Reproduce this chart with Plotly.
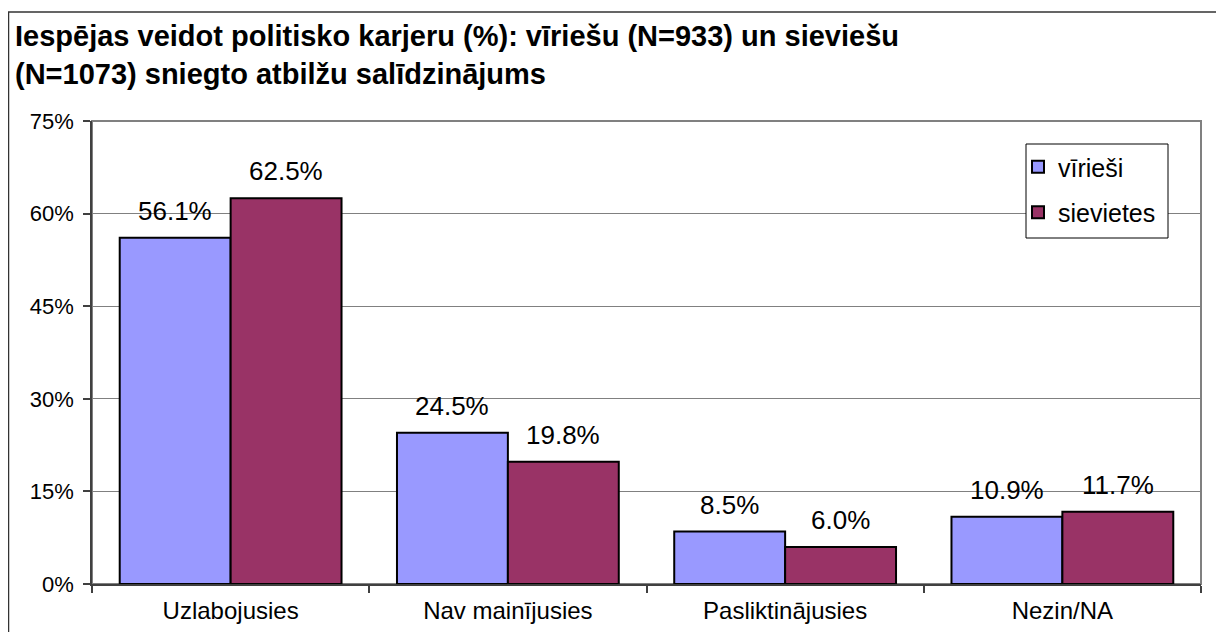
import plotly.graph_objects as go

categories = ["Uzlabojusies", "Nav mainījusies", "Pasliktinājusies", "Nezin/NA"]
virriesi = [56.1, 24.5, 8.5, 10.9]
sievietes = [62.5, 19.8, 6.0, 11.7]
series_names = ["vīrieši", "sievietes"]
y_ticks = [0, 15, 30, 45, 60, 75]
y_tick_labels = ["0%", "15%", "30%", "45%", "60%", "75%"]
title_text = "<b>Iespējas veidot politisko karjeru (%): vīriešu (N=933) un sieviešu<br>(N=1073) sniegto atbilžu salīdzinājums</b>"

FONT = "Arial, Liberation Sans, sans-serif"
colors = ["#9999FF", "#993366"]

W, H = 1216, 624
L, R, T, B = 84, 23, 113, 48
PW, PH = W - L - R, H - T - B


def px_x(x):  # page px -> paper x
    return (x - 8 - L) / PW


def px_y(y):  # page px -> paper y
    return (H - B - (y - 8)) / PH


fig = go.Figure()
for name, vals, col in zip(series_names, [virriesi, sievietes], colors):
    fig.add_trace(go.Bar(
        x=categories, y=vals, name=name, legendgroup=name,
        marker=dict(color=col, line=dict(color="black", width=2)),
    ))

# data labels
bar_px = PW / 4 * 0.4
for vals, shift in [(virriesi, -bar_px / 2), (sievietes, bar_px / 2)]:
    for c, v in zip(categories, vals):
        fig.add_annotation(x=c, y=v, text=f"{v:.1f}%", showarrow=False,
                           xshift=shift, yshift=10, yanchor="bottom",
                           font=dict(family=FONT, size=26, color="black"))

# title
fig.add_annotation(xref="paper", yref="paper", x=px_x(13), y=px_y(18),
                   xanchor="left", yanchor="top", align="left", showarrow=False,
                   text=title_text, font=dict(family=FONT, size=29, color="black"))

# outer chart border
fig.add_shape(type="rect", xref="paper", yref="paper",
              x0=px_x(8.5), x1=1.1, y0=-0.3, y1=px_y(12),
              line=dict(color="#333333", width=1.5), layer="below")

# plot area border
fig.add_shape(type="rect", xref="paper", yref="paper", x0=0, x1=1, y0=0, y1=1,
              line=dict(color="#808080", width=2), layer="below")

# legend box
fig.add_shape(type="rect", xref="paper", yref="paper",
              x0=px_x(1026), x1=px_x(1168), y0=px_y(238), y1=px_y(144),
              line=dict(color="black", width=1), fillcolor="white", layer="above")

fig.update_layout(
    width=W, height=H,
    margin=dict(l=L, r=R, t=T, b=B, autoexpand=False),
    paper_bgcolor="white", plot_bgcolor="white",
    bargap=0.2, bargroupgap=0,
    showlegend=True,
    legend=dict(x=px_x(1018), y=px_y(144), xanchor="left", yanchor="top",
                bgcolor="rgba(0,0,0,0)", borderwidth=0,
                font=dict(family=FONT, size=25, color="black"),
                traceorder="grouped", tracegroupgap=10, itemwidth=30),
    xaxis=dict(type="category", showline=True, linecolor="#404040", linewidth=1.5,
               ticks="outside", tickson="boundaries", ticklen=7, automargin=False,
               tickcolor="#404040", tickwidth=1.5, ticklabelstandoff=4,
               tickfont=dict(family=FONT, size=24, color="black"), showgrid=False),
    yaxis=dict(range=[0, 75], tickvals=y_ticks, ticktext=y_tick_labels,
               showline=True, linecolor="#404040", linewidth=1.5, automargin=False,
               ticks="outside", ticklen=7, tickcolor="#404040", tickwidth=1.5,
               ticklabelstandoff=5,
               showgrid=True, gridcolor="#808080", gridwidth=1.2,
               tickfont=dict(family=FONT, size=22, color="black"), zeroline=False),
)

fig.write_html("out.html")
